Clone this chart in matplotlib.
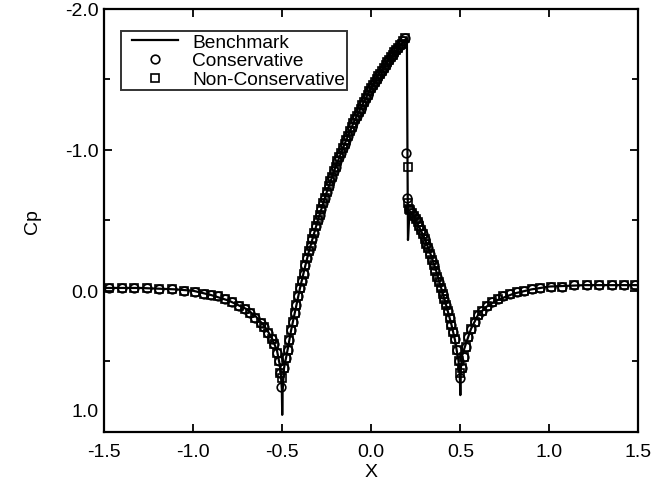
import matplotlib
matplotlib.use("Agg")
import matplotlib.pyplot as plt
from matplotlib.legend_handler import HandlerLine2D
from matplotlib.ticker import MultipleLocator, FormatStrFormatter
from matplotlib.transforms import ScaledTranslation

plt.rcParams['font.family'] = ['Liberation Sans', 'DejaVu Sans']

# benchmark solution (solid line)
bench_x = [-1.5, -1.3, -1.1, -1.0, -0.9, -0.8, -0.7, -0.65, -0.6, -0.56, -0.53,
           -0.51, -0.502, -0.5, -0.498, -0.49, -0.47, -0.45, -0.42, -0.4, -0.37,
           -0.35, -0.3, -0.25, -0.2, -0.15, -0.1, -0.05, 0.0, 0.05, 0.1, 0.15,
           0.19, 0.2, 0.203, 0.206, 0.212, 0.22, 0.24, 0.27, 0.3, 0.33, 0.36,
           0.39, 0.42, 0.45, 0.47, 0.49, 0.497, 0.5, 0.503, 0.51, 0.53, 0.56,
           0.6, 0.65, 0.7, 0.8, 0.9, 1.0, 1.2, 1.5]
bench_cp = [-0.02, -0.02, -0.01, 0.0, 0.03, 0.07, 0.13, 0.18, 0.25, 0.33, 0.42,
            0.55, 0.7, 0.88, 0.72, 0.55, 0.42, 0.28, 0.1, -0.02, -0.18,
            -0.28, -0.5, -0.7, -0.88, -1.04, -1.19, -1.32, -1.44, -1.55, -1.64,
            -1.72, -1.78, -1.79, -1.0, -0.36, -0.5, -0.56, -0.52, -0.45, -0.37,
            -0.27, -0.16, -0.03, 0.1, 0.24, 0.35, 0.5, 0.6, 0.74, 0.55, 0.46,
            0.38, 0.27, 0.17, 0.11, 0.07, 0.02, -0.01, -0.03, -0.04, -0.04]

# marker stations where both schemes overlap
mark_x = [-1.47, -1.40, -1.33, -1.26, -1.19, -1.12, -1.05, -0.99, -0.94, -0.90,
          -0.86, -0.82, -0.78, -0.74, -0.71, -0.68, -0.65, -0.62, -0.60, -0.58,
          -0.56, -0.545, -0.53, -0.52, -0.51,
          -0.49, -0.48, -0.47, -0.46, -0.45, -0.44, -0.43, -0.42, -0.41, -0.40,
          -0.39, -0.38, -0.37, -0.36, -0.35, -0.34, -0.33, -0.32, -0.31,
          -0.30, -0.29, -0.28, -0.27, -0.26, -0.25, -0.24, -0.23, -0.22, -0.21,
          -0.20, -0.19, -0.18, -0.17, -0.16, -0.15, -0.14, -0.13, -0.12, -0.11,
          -0.10, -0.09, -0.08, -0.07, -0.06, -0.05, -0.04, -0.03, -0.02, -0.01,
          0.00, 0.01, 0.02, 0.03, 0.04, 0.05, 0.06, 0.07, 0.08, 0.09,
          0.10, 0.11, 0.12, 0.13, 0.14, 0.15, 0.16, 0.17, 0.18, 0.19,
          0.21, 0.22, 0.23, 0.24, 0.25, 0.26, 0.27, 0.28, 0.29, 0.30,
          0.31, 0.32, 0.33, 0.34, 0.35, 0.36, 0.37, 0.38, 0.39, 0.40,
          0.41, 0.42, 0.43, 0.44, 0.45, 0.46, 0.47, 0.48, 0.49,
          0.51, 0.52, 0.53, 0.545, 0.56, 0.58, 0.60, 0.62, 0.65, 0.68,
          0.71, 0.74, 0.78, 0.82, 0.86, 0.90, 0.95, 1.01, 1.07, 1.14,
          1.21, 1.28, 1.35, 1.42, 1.48]
mark_cp = [-0.02, -0.02, -0.02, -0.02, -0.01, -0.01, 0.0, 0.01, 0.02, 0.03,
           0.04, 0.06, 0.08, 0.11, 0.13, 0.16, 0.19, 0.23, 0.26, 0.30,
           0.34, 0.38, 0.44, 0.50, 0.58,
           0.55, 0.48, 0.42, 0.35, 0.28, 0.22, 0.16, 0.10, 0.04, -0.02,
           -0.07, -0.12, -0.18, -0.23, -0.28, -0.32, -0.37, -0.41, -0.46,
           -0.50, -0.54, -0.58, -0.62, -0.66, -0.70, -0.74, -0.78, -0.81, -0.85,
           -0.88, -0.92, -0.95, -0.98, -1.01, -1.04, -1.07, -1.10, -1.13, -1.16,
           -1.19, -1.22, -1.24, -1.27, -1.29, -1.32, -1.34, -1.37, -1.39, -1.42,
           -1.44, -1.46, -1.48, -1.50, -1.52, -1.54, -1.56, -1.58, -1.60, -1.62,
           -1.64, -1.66, -1.67, -1.69, -1.71, -1.72, -1.74, -1.75, -1.77, -1.79,
           -0.58, -0.57, -0.55, -0.53, -0.51, -0.49, -0.46, -0.43, -0.40, -0.37,
           -0.33, -0.30, -0.26, -0.22, -0.18, -0.14, -0.10, -0.06, -0.02, 0.02,
           0.06, 0.10, 0.14, 0.19, 0.24, 0.29, 0.34, 0.42, 0.50,
           0.55, 0.47, 0.40, 0.33, 0.27, 0.22, 0.17, 0.14, 0.11, 0.08,
           0.06, 0.04, 0.02, 0.01, 0.0, -0.01, -0.02, -0.03, -0.03, -0.04,
           -0.04, -0.04, -0.04, -0.04, -0.04]

# points where the two schemes differ (leading edge, shock, trailing edge)
cons_x = [-0.505, 0.197, 0.201, 0.5]
cons_cp = [0.68, -0.98, -0.66, 0.62]
noncons_x = [-0.50, 0.205, 0.208, 0.5]
noncons_cp = [0.62, -0.88, -0.62, 0.58]


class HandlerRightMarker(HandlerLine2D):
    # line starts a bit in from the frame, marker sits at the right end
    def get_xdata(self, legend, xdescent, ydescent, width, height, fontsize):
        x0 = -xdescent + 0.45 * fontsize
        x1 = width - xdescent
        return [x0, x1], [x1 - 0.1 * fontsize]


fig = plt.figure(figsize=(6.63, 4.89), dpi=100)
ax = fig.add_axes([0.157, 0.115, 0.806, 0.865])

ax.plot(bench_x, bench_cp, color='black', lw=1.6, label='Benchmark')
ax.plot(mark_x + cons_x, mark_cp + cons_cp, ls='none', marker='o', ms=6.2,
        mfc='none', mec='black', mew=1.2, label='Conservative')
ax.plot(mark_x + noncons_x, mark_cp + noncons_cp, ls='none', marker='s', ms=5.2,
        mfc='none', mec='black', mew=1.2, label='Non-Conservative')

ax.set_xlim(-1.5, 1.5)
ax.set_ylim(1.0, -2.0)
ax.xaxis.set_major_locator(MultipleLocator(0.5))
ax.yaxis.set_major_locator(MultipleLocator(1.0))
ax.yaxis.set_minor_locator(MultipleLocator(0.5))
ax.xaxis.set_major_formatter(FormatStrFormatter('%.1f'))
ax.yaxis.set_major_formatter(FormatStrFormatter('%.1f'))
ax.tick_params(which='both', direction='in', top=True, right=True,
               labelsize=14, width=1.3)
ax.tick_params(which='major', length=6)
ax.tick_params(which='minor', length=4)
ax.tick_params(axis='x', which='major', pad=8)
ax.tick_params(axis='y', which='major', pad=4)
for s in ax.spines.values():
    s.set_linewidth(1.6)

ax.set_xlabel('X', fontsize=14, labelpad=2)
ax.set_ylabel('Cp', fontsize=14, labelpad=17)

leg = ax.legend(loc='upper left', bbox_to_anchor=(0.032, 0.947), fontsize=13.8,
                frameon=True, fancybox=False, edgecolor='black',
                handlelength=2.85, handletextpad=0.75, labelspacing=0.08,
                borderpad=0.1, borderaxespad=0.0, numpoints=1,
                handler_map={plt.Line2D: HandlerRightMarker(numpoints=1)})
leg.get_frame().set_linewidth(1.4)

# the 1.0 label sits above the corner in the scan
fig.canvas.draw()
for tick in ax.yaxis.get_major_ticks():
    if abs(tick.get_loc() - 1.0) < 1e-6:
        lab = tick.label1
        lab.set_transform(lab.get_transform() +
                          ScaledTranslation(0, 16 / 72, fig.dpi_scale_trans))

fig.savefig('out.png', dpi=100)
